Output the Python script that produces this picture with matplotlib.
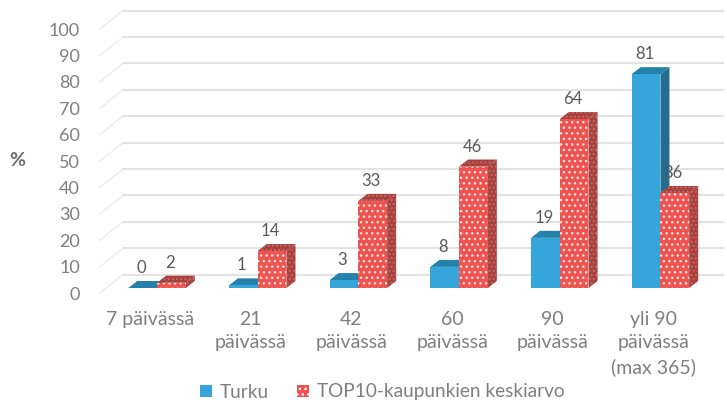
import matplotlib
matplotlib.use('Agg')
import numpy as np
import matplotlib.pyplot as plt
from matplotlib.patches import Patch

plt.rcParams['font.family'] = ['Lato', 'DejaVu Sans']
plt.rcParams['hatch.linewidth'] = 1.0

categories = ['7 päivässä', '21\npäivässä', '42\npäivässä', '60\npäivässä', '90\npäivässä',
              'yli 90\npäivässä\n(max 365)']
turku = [0, 1, 3, 8, 19, 81]
top10 = [2, 14, 33, 46, 64, 36]
yticks = [0, 10, 20, 30, 40, 50, 60, 70, 80, 90, 100]
series_names = ['Turku', 'TOP10-kaupunkien keskiarvo']

W, H = 727, 404
fig = plt.figure(figsize=(W / 100, H / 100), dpi=100)
ax = fig.add_axes([100 / W, (H - 293) / H, (W - 100) / W, 264 / H])

# pikselit -> data-arvot, 3d-vaikutelma tehdaan kasin
px_x = 1 / 100.6
px_y = 100 / 264
x = np.arange(len(categories))
ax.set_xlim(-57 * px_x, (W - 157.5) * px_x)
ax.set_ylim(0, 100)
bar_w = 28.7 * px_x
base = 5 * px_y
dx, dy = 9 * px_x, 7 * px_y
grid_dx, grid_dy = 23 * px_x, 18.5 * px_y


def bar3d(left, value, front, side, top, hatch=None):
    ax.bar(left, value, bar_w, bottom=base, align='edge', color=front, edgecolor='#FBE3DC' if hatch else front,
           hatch=hatch, linewidth=0, zorder=3)
    y0, y1 = base, base + value
    r = left + bar_w
    ax.fill([r, r + dx, r + dx, r], [y0, y0 + dy, y1 + dy, y1], facecolor=side,
            edgecolor='#C26A66' if hatch else side, hatch='....' if hatch else None, linewidth=0, zorder=2.5)
    ax.fill([left, left + dx, r + dx, r], [y1, y1 + dy, y1 + dy, y1], facecolor=top,
            edgecolor='#C26A66' if hatch else top, hatch='....' if hatch else None, linewidth=0, zorder=2.5)


# ruudukko
xmin, xmax = ax.get_xlim()
for v in yticks:
    ax.plot([xmin, xmin + grid_dx], [v, v + grid_dy], color='#EFEFEF', lw=1.2, zorder=1, clip_on=False)
    ax.plot([xmin + grid_dx, xmax - 4 * px_x], [v + grid_dy, v + grid_dy], color='#E3E3E3', lw=1.5, zorder=1,
            clip_on=False)

for i in x:
    bar3d(i - bar_w, turku[i], '#36A5D9', '#256C90', '#2481A9')
    bar3d(i, top10[i], '#EE5350', '#A8403D', '#A8403D', hatch='...')

# arvot
for i in x:
    ax.text(i - bar_w / 2 - 1.5 * px_x, base + turku[i] + 20 * px_y, str(turku[i]), ha='center', va='center',
            fontsize=12, color='#595959', zorder=5, clip_on=False)
    ax.text(i + bar_w / 2 - 1.5 * px_x, base + top10[i] + 20 * px_y, str(top10[i]), ha='center', va='center',
            fontsize=12, color='#595959', zorder=5, clip_on=False)

ax.set_yticks(yticks)
ax.set_yticklabels([str(v) for v in yticks], fontsize=13, color='#7F7F7F')
ax.set_xticks(x - 7 * px_x)
ax.set_xticklabels(categories, fontsize=14, color='#7F7F7F', linespacing=1.45)
ax.tick_params(axis='both', length=0)
ax.tick_params(axis='y', pad=14.5)
ax.tick_params(axis='x', pad=13)
for s in ax.spines.values():
    s.set_visible(False)
ax.patch.set_alpha(0)

fig.text(17 / W, 1 - 161 / H, '%', fontsize=14, fontweight='bold', color='#6E6E6E', ha='center', va='center')

handles = [Patch(facecolor='#36A5D9', linewidth=0),
           Patch(facecolor='#EE5350', edgecolor='white', hatch='...', linewidth=0)]
fig.legend(handles, series_names, ncol=2, loc='center', bbox_to_anchor=(382 / W, 1 - 392 / H), frameon=False,
           fontsize=13.7, labelcolor='#7F7F7F', handlelength=0.63, handleheight=0.63, handletextpad=0.4,
           columnspacing=1.5, borderpad=0)

fig.savefig('out.png', dpi=100)
